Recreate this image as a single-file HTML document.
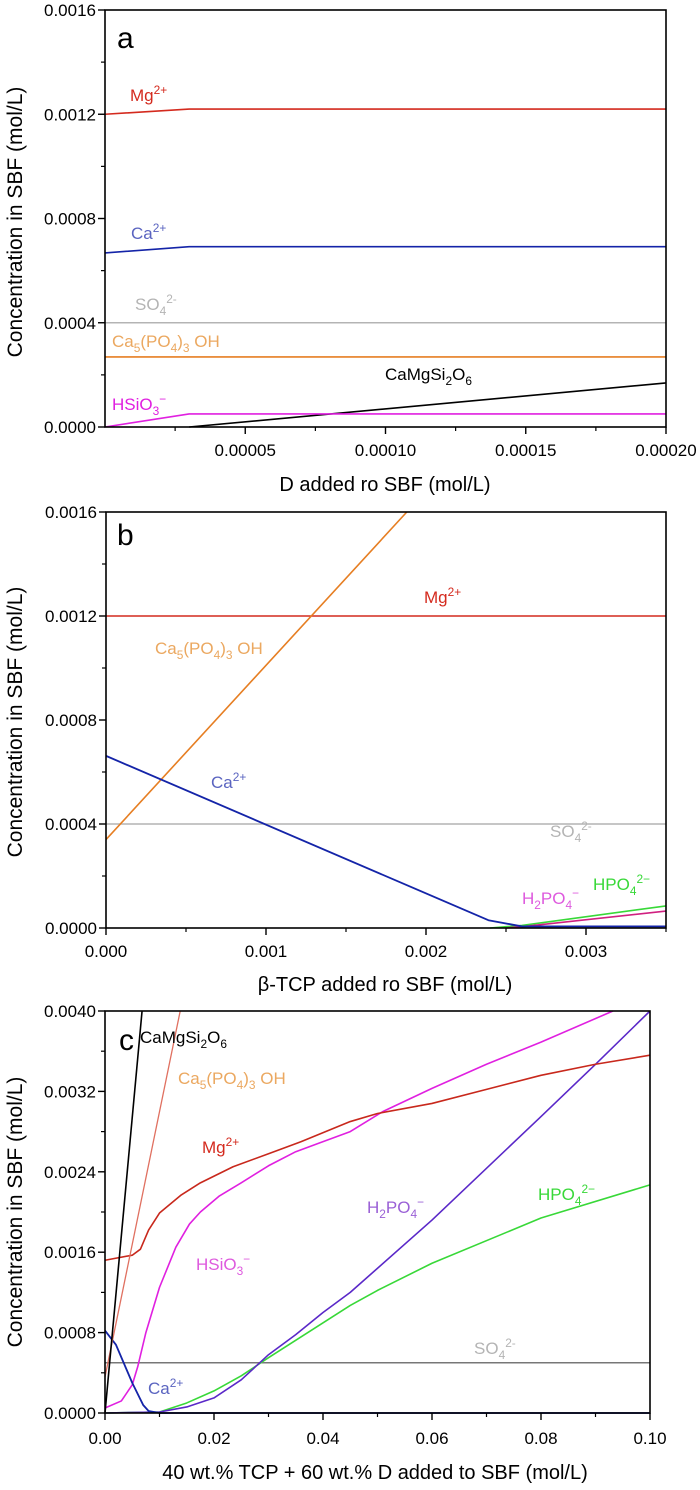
<!DOCTYPE html>
<html><head><meta charset="utf-8">
<style>
html,body{margin:0;padding:0;background:#fff;}
svg{display:block;font-family:"Liberation Sans",Arial,sans-serif;}
</style></head>
<body>
<svg id="fig" width="700" height="1490" viewBox="0 0 700 1490" xmlns="http://www.w3.org/2000/svg"></svg>
<script>
// ---------- Panel a data ----------
const aMgX = [0, 0.00003, 0.0002];
const aMgY = [0.0012, 0.00122, 0.00122];
const aCaX = [0, 0.00003, 0.0002];
const aCaY = [0.000668, 0.000692, 0.000692];
const aSO4X = [0, 0.0002];
const aSO4Y = [0.0004, 0.0004];
const aHapX = [0, 0.0002];
const aHapY = [0.000269, 0.000269];
const aHsiX = [0, 0.00003, 0.0002];
const aHsiY = [0, 0.00005, 0.00005];
const aDiX = [0.00003, 0.0002];
const aDiY = [0, 0.000169];
const aXTicks = [0.00005, 0.0001, 0.00015, 0.0002];
const aXTickLabels = ["0.00005", "0.00010", "0.00015", "0.00020"];
const aYTicks = [0, 0.0004, 0.0008, 0.0012, 0.0016];
const aYTickLabels = ["0.0000", "0.0004", "0.0008", "0.0012", "0.0016"];

// ---------- Panel b data ----------
const bMgX = [0, 0.0035];
const bMgY = [0.0012, 0.0012];
const bHapX = [0, 0.00188];
const bHapY = [0.00034, 0.0016];
const bCaX = [0, 0.00239, 0.0026, 0.0035];
const bCaY = [0.000662, 0.00003, 0.000006, 0.000006];
const bSO4X = [0, 0.0035];
const bSO4Y = [0.0004, 0.0004];
const bHpoX = [0.0024, 0.0026, 0.0035];
const bHpoY = [0, 0.00001, 0.000085];
const bH2pX = [0.0025, 0.0026, 0.0035];
const bH2pY = [0, 0.000005, 0.000065];
const bXTicks = [0, 0.001, 0.002, 0.003];
const bXTickLabels = ["0.000", "0.001", "0.002", "0.003"];
const bYTicks = [0, 0.0004, 0.0008, 0.0012, 0.0016];
const bYTickLabels = ["0.0000", "0.0004", "0.0008", "0.0012", "0.0016"];

// ---------- Panel c data ----------
const cDiX = [0, 0.0068];
const cDiY = [0, 0.004];
const cHapX = [0, 0.0138];
const cHapY = [0.00036, 0.004];
const cMgX = [0, 0.005, 0.0065, 0.008, 0.01, 0.014, 0.0175, 0.0235, 0.03, 0.036, 0.045, 0.05, 0.06, 0.07, 0.08, 0.09, 0.1];
const cMgY = [0.00152, 0.00157, 0.00163, 0.00182, 0.00199, 0.00217, 0.00229, 0.00245, 0.00258, 0.0027, 0.0029, 0.00298, 0.00308, 0.00322, 0.00336, 0.00347, 0.00356];
const cHsiX = [0, 0.003, 0.005, 0.006, 0.0075, 0.01, 0.013, 0.0155, 0.0175, 0.021, 0.025, 0.03, 0.035, 0.045, 0.051, 0.06, 0.07, 0.08, 0.0932];
const cHsiY = [0.00005, 0.00012, 0.00028, 0.00046, 0.0008, 0.00125, 0.00165, 0.00188, 0.002, 0.00216, 0.00229, 0.00246, 0.0026, 0.0028, 0.003, 0.00323, 0.00347, 0.00369, 0.004];
const cH2pX = [0, 0.01, 0.015, 0.02, 0.025, 0.03, 0.035, 0.04, 0.045, 0.06, 0.08, 0.09, 0.1];
const cH2pY = [0, 0.00001, 0.00006, 0.00015, 0.00033, 0.00058, 0.00078, 0.001, 0.0012, 0.00192, 0.00295, 0.00347, 0.004];
const cHpoX = [0, 0.01, 0.015, 0.02, 0.025, 0.03, 0.045, 0.05, 0.06, 0.08, 0.1];
const cHpoY = [0, 0.00001, 0.0001, 0.00022, 0.00037, 0.00055, 0.00107, 0.00122, 0.00149, 0.00194, 0.00227];
const cCaX = [0, 0.002, 0.005, 0.007, 0.008, 0.01, 0.1];
const cCaY = [0.00082, 0.00068, 0.0003, 0.00008, 0.00002, 0, 0];
const cSO4X = [0, 0.1];
const cSO4Y = [0.0005, 0.0005];
const cXTicks = [0, 0.02, 0.04, 0.06, 0.08, 0.1];
const cXTickLabels = ["0.00", "0.02", "0.04", "0.06", "0.08", "0.10"];
const cYTicks = [0, 0.0008, 0.0016, 0.0024, 0.0032, 0.004];
const cYTickLabels = ["0.0000", "0.0008", "0.0016", "0.0024", "0.0032", "0.0040"];

const NS = "http://www.w3.org/2000/svg";
const svg = document.getElementById("fig");
function mk(tag, attrs, parent) {
  const e = document.createElementNS(NS, tag);
  for (const k in attrs) e.setAttribute(k, attrs[k]);
  (parent || svg).appendChild(e);
  return e;
}
function makeAxes(x0, x1, y0, y1, L, R, T, B) {
  return {
    sx: v => L + (v - x0) / (x1 - x0) * (R - L),
    sy: v => B - (v - y0) / (y1 - y0) * (B - T),
    L, R, T, B
  };
}
function drawFrame(ax, g, xT, xL, xMinor, yT, yL, yMinor, xLabY) {
  const fr = mk("rect", {x: ax.L, y: ax.T, width: ax.R - ax.L, height: ax.B - ax.T, fill: "none", stroke: "#000", "stroke-width": 1.6}, g);
  
  
  xMinor.forEach(v => {
    const t = mk("line", {x1: ax.sx(v), x2: ax.sx(v), y1: ax.B, y2: ax.B + 4, stroke: "#000", "stroke-width": 1.2}, g);
    
    
  });
  xT.forEach((v, i) => {
    const t = mk("line", {x1: ax.sx(v), x2: ax.sx(v), y1: ax.B, y2: ax.B + 7, stroke: "#000", "stroke-width": 1.4}, g);
    
    
    const tx = mk("text", {x: ax.sx(v), y: xLabY, "font-size": 17, "text-anchor": "middle", fill: "#000"}, g);
    tx.textContent = xL[i];
    
    
  });
  yMinor.forEach(v => {
    const t = mk("line", {x1: ax.L - 4, x2: ax.L, y1: ax.sy(v), y2: ax.sy(v), stroke: "#000", "stroke-width": 1.2}, g);
    
    
  });
  yT.forEach((v, i) => {
    const t = mk("line", {x1: ax.L - 7, x2: ax.L, y1: ax.sy(v), y2: ax.sy(v), stroke: "#000", "stroke-width": 1.4}, g);
    
    
    const tx = mk("text", {x: ax.L - 9, y: ax.sy(v) + 6, "font-size": 17, "text-anchor": "end", fill: "#000"}, g);
    tx.textContent = yL[i];
    
    
  });
}
function series(ax, g, xs, ys, color, name, w) {
  const d = xs.map((x, i) => (i ? "L" : "M") + ax.sx(x).toFixed(2) + " " + ax.sy(ys[i]).toFixed(2)).join(" ");
  const p = mk("path", {d: d, fill: "none", stroke: color, "stroke-width": w || 1.6, "stroke-linejoin": "round"}, g);
  
  
}
function chem(g, x, y, segs, color, name, size) {
  size = size || 17;
  const t = mk("text", {x: x, y: y, "font-size": size, fill: color}, g);
  let cur = 0;
  segs.forEach(sg => {
    const s = mk("tspan", {}, t);
    s.textContent = sg[0];
    let target = sg[1] === "b" ? 5 : sg[1] === "p" ? -7 : 0;
    if (target !== cur) s.setAttribute("dy", target - cur);
    cur = target;
    if (sg[1] !== "n") s.setAttribute("font-size", size * 0.7);
  });
  
  
  return t;
}
function txt(g, x, y, s, size, anchor, name, rot) {
  const a = {x: x, y: y, "font-size": size, "text-anchor": anchor || "start", fill: "#000"};
  if (rot) a.transform = rot;
  const t = mk("text", a, g);
  t.textContent = s;
  
  
}

const RED = "#d42a1e", BLUE = "#1424a8", BLUEL = "#5a64c0", ORANGE = "#e67e22", ORANGEL = "#eba860",
      MAG = "#e020e0", MAGL = "#de5ade", GREEN = "#38d838", PURPLE = "#5a28c8", PURPLEL = "#9a60d6", GREY = "#b4b4b4";

// ---------- Panel a ----------
const ga = mk("g", {});


const A = makeAxes(0, 0.0002, 0, 0.0016, 105, 666, 10, 427);
series(A, ga, aSO4X, aSO4Y, GREY, "so4-line", 1.4);
series(A, ga, aHapX, aHapY, ORANGE, "hydroxyapatite-line");
series(A, ga, aMgX, aMgY, RED, "mg-line");
series(A, ga, aCaX, aCaY, BLUE, "ca-line");
series(A, ga, aDiX, aDiY, "#000", "diopside-line");
series(A, ga, aHsiX, aHsiY, MAG, "hsio3-line");
drawFrame(A, ga, aXTicks, aXTickLabels, [0.000025, 0.000075, 0.000125, 0.000175], aYTicks, aYTickLabels, [0.0002, 0.0006, 0.001, 0.0014], 456);
txt(ga, 117, 48, "a", 30, "start", "panel-label-a");
chem(ga, 130, 101, [["Mg","n"],["2+","p"]], RED, "mg-label");
chem(ga, 131, 239, [["Ca","n"],["2+","p"]], BLUEL, "ca-label");
chem(ga, 135, 310, [["SO","n"],["4","b"],["2-","p"]], GREY, "so4-label");
chem(ga, 112, 347, [["Ca","n"],["5","b"],["(PO","n"],["4","b"],[")","n"],["3","b"],[" OH","n"]], ORANGEL, "hydroxyapatite-label");
chem(ga, 112, 410, [["HSiO","n"],["3","b"],["\u2212","p"]], MAG, "hsio3-label");
chem(ga, 385, 380, [["CaMgSi","n"],["2","b"],["O","n"],["6","b"]], "#000", "diopside-label");
txt(ga, 385, 491, "D added ro SBF (mol/L)", 20, "middle", "x-axis-title-a");
txt(ga, 0, 0, "Concentration in SBF (mol/L)", 21, "middle", "y-axis-title-a", "translate(22,222) rotate(-90)");

// ---------- Panel b ----------
const gb = mk("g", {});


const Bx = makeAxes(0, 0.0035, 0, 0.0016, 106, 666, 512, 928);
series(Bx, gb, bSO4X, bSO4Y, GREY, "so4-line", 1.4);
series(Bx, gb, bMgX, bMgY, RED, "mg-line");
series(Bx, gb, bHapX, bHapY, ORANGE, "hydroxyapatite-line");
series(Bx, gb, bHpoX, bHpoY, GREEN, "hpo4-line");
series(Bx, gb, bH2pX, bH2pY, "#d02080", "h2po4-line");
series(Bx, gb, bCaX, bCaY, BLUE, "ca-line", 1.8);
drawFrame(Bx, gb, bXTicks, bXTickLabels, [0.0005, 0.0015, 0.0025, 0.0035], bYTicks, bYTickLabels, [0.0002, 0.0006, 0.001, 0.0014], 957);
txt(gb, 117, 545, "b", 30, "start", "panel-label-b");
chem(gb, 424, 603, [["Mg","n"],["2+","p"]], RED, "mg-label");
chem(gb, 155, 654, [["Ca","n"],["5","b"],["(PO","n"],["4","b"],[")","n"],["3","b"],[" OH","n"]], ORANGEL, "hydroxyapatite-label");
chem(gb, 211, 788, [["Ca","n"],["2+","p"]], BLUEL, "ca-label");
chem(gb, 550, 837, [["SO","n"],["4","b"],["2-","p"]], GREY, "so4-label");
chem(gb, 522, 904, [["H","n"],["2","b"],["PO","n"],["4","b"],["\u2212","p"]], MAGL, "h2po4-label");
chem(gb, 593, 890, [["HPO","n"],["4","b"],["2\u2212","p"]], GREEN, "hpo4-label");
txt(gb, 385, 991, "\u03b2-TCP added ro SBF (mol/L)", 20, "middle", "x-axis-title-b");
txt(gb, 0, 0, "Concentration in SBF (mol/L)", 21, "middle", "y-axis-title-b", "translate(22,722) rotate(-90)");

// ---------- Panel c ----------
const gc = mk("g", {});


const C = makeAxes(0, 0.1, 0, 0.004, 105, 650, 1011, 1413);
series(C, gc, cSO4X, cSO4Y, "#777", "so4-line", 1.4);
series(C, gc, cHpoX, cHpoY, GREEN, "hpo4-line");
series(C, gc, cH2pX, cH2pY, PURPLE, "h2po4-line");
series(C, gc, cHsiX, cHsiY, MAG, "hsio3-line");
series(C, gc, cMgX, cMgY, "#c8281c", "mg-line");
series(C, gc, cCaX, cCaY, BLUE, "ca-line", 1.8);
series(C, gc, cHapX, cHapY, "#e07060", "hydroxyapatite-line", 1.3);
series(C, gc, cDiX, cDiY, "#000", "diopside-line");
drawFrame(C, gc, cXTicks, cXTickLabels, [0.01, 0.03, 0.05, 0.07, 0.09], cYTicks, cYTickLabels, [0.0004, 0.0012, 0.002, 0.0028, 0.0036], 1444);
txt(gc, 119, 1050, "c", 30, "start", "panel-label-c");
chem(gc, 140, 1043, [["CaMgSi","n"],["2","b"],["O","n"],["6","b"]], "#000", "diopside-label");
chem(gc, 178, 1084, [["Ca","n"],["5","b"],["(PO","n"],["4","b"],[")","n"],["3","b"],[" OH","n"]], ORANGEL, "hydroxyapatite-label");
chem(gc, 202, 1153, [["Mg","n"],["2+","p"]], RED, "mg-label");
chem(gc, 196, 1270, [["HSiO","n"],["3","b"],["\u2212","p"]], MAGL, "hsio3-label");
chem(gc, 148, 1394, [["Ca","n"],["2+","p"]], BLUEL, "ca-label");
chem(gc, 367, 1213, [["H","n"],["2","b"],["PO","n"],["4","b"],["\u2212","p"]], PURPLEL, "h2po4-label");
chem(gc, 538, 1200, [["HPO","n"],["4","b"],["2\u2212","p"]], GREEN, "hpo4-label");
chem(gc, 474, 1354, [["SO","n"],["4","b"],["2-","p"]], GREY, "so4-label");
txt(gc, 375, 1479, "40 wt.% TCP + 60 wt.% D added to SBF (mol/L)", 20, "middle", "x-axis-title-c");
txt(gc, 0, 0, "Concentration in SBF (mol/L)", 21, "middle", "y-axis-title-c", "translate(22,1212) rotate(-90)");
</script>
</body></html>
